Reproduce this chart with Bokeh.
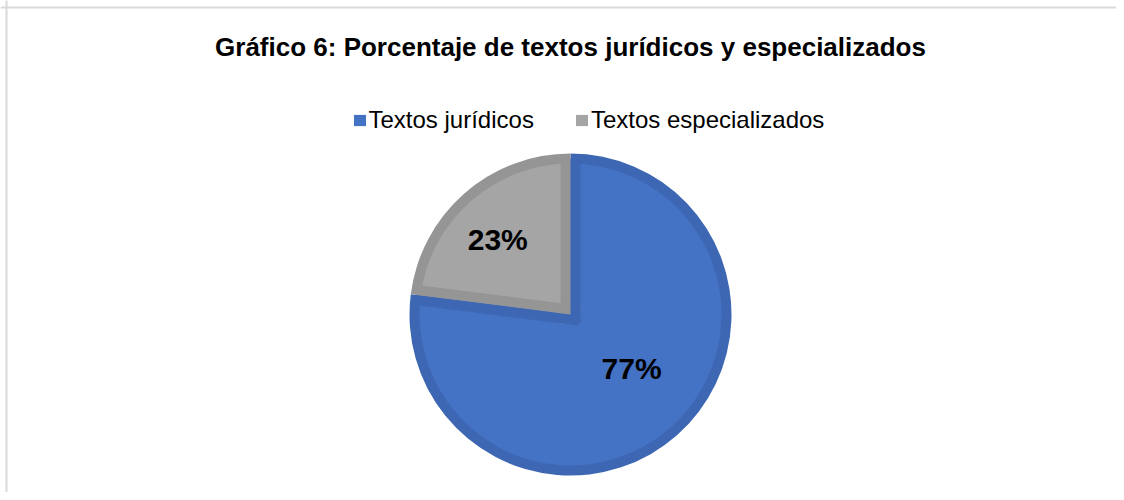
import numpy as np
from bokeh.plotting import figure
from bokeh.models import Range1d, Legend, LegendItem, Span, ColumnDataSource
from bokeh.core.properties import value
from bokeh.embed import file_html
from bokeh.resources import INLINE

# ---- data ----
categories = ["Textos jurídicos", "Textos especializados"]
percentages = [77, 23]
labels = ["77%", "23%"]
title_text = "Gráfico 6: Porcentaje de textos jurídicos y especializados"

# ---- style ----
fill_colors = ["#4472C4", "#A5A5A5"]
edge_colors = ["#3D67B3", "#959595"]
FONT = "Liberation Sans"

W, H = 1116, 492
# data coordinates: x = screen px from left, y = 500 - screen px from top
p = figure(width=W, height=H, x_range=Range1d(0, W), y_range=Range1d(8, 8 + H),
           output_backend="svg", toolbar_location=None, min_border=0)
p.axis.visible = False
p.grid.visible = False
p.outline_line_color = None
p.background_fill_color = "white"
p.border_fill_color = "white"

# chart frame (left and top edges visible)
p.add_layout(Span(location=6, dimension="height", line_color="#D9D9D9", line_width=2))
p.add_layout(Span(location=493, dimension="width", line_color="#D9D9D9", line_width=2))

# ---- pie geometry ----
cx, cy = 570, 186
R_out, R_in, bw = 161, 151, 10
frac = np.array(percentages, dtype=float) / sum(percentages)
cum = np.concatenate([[0.0], np.cumsum(frac)])
a_hi = np.pi / 2 - 2 * np.pi * cum[:-1]
a_lo = np.pi / 2 - 2 * np.pi * cum[1:]

src = ColumnDataSource(dict(cat=categories, start=a_lo, end=a_hi,
                            fill=fill_colors, edge=edge_colors))
p.wedge(x=cx, y=cy, radius=R_out, start_angle="start", end_angle="end",
        fill_color="edge", line_color=None, source=src)
inner = p.wedge(x=cx, y=cy, radius=R_in, start_angle="start", end_angle="end",
                fill_color="fill", line_color=None, source=src)

# edge bands along the radii (inside each slice)
back = bw - 1
rx, ry, rang, rcol = [], [], [], []
for i in [1, 0]:
    for ang, perp in [(a_lo[i], a_lo[i] + np.pi / 2), (a_hi[i], a_hi[i] - np.pi / 2)]:
        rx.append(cx + bw / 2 * np.cos(perp) - back * np.cos(ang))
        ry.append(cy + bw / 2 * np.sin(perp) - back * np.sin(ang))
        rang.append(ang)
        rcol.append(edge_colors[i])
p.ray(x=rx, y=ry, length=back + (R_in + R_out) / 2, angle=rang, line_color=rcol,
      line_width=bw, line_cap="butt")

# ---- data labels ----
mid = (a_lo + a_hi) / 2
lab_nudge = np.radians([7.1, 2.6])
lab_r = np.array([81.5, 104.7])
lx = cx + lab_r * np.cos(mid + lab_nudge)
ly = cy + lab_r * np.sin(mid + lab_nudge)
p.text(x=lx, y=ly, text=labels, text_font=value(FONT), text_font_style="bold",
       text_font_size="30px", text_align="center", text_baseline="middle",
       text_color="black")

# ---- title ----
p.text(x=[570], y=[454], text=[title_text], text_font=value(FONT),
       text_font_style="bold", text_font_size="26px", text_align="center",
       text_baseline="middle", text_color="black")

# ---- legend ----
legend = Legend(items=[LegendItem(label=categories[i], renderers=[inner], index=i)
                       for i in range(len(categories))],
                orientation="horizontal", location=(351.5, 358))
legend.border_line_color = None
legend.background_fill_alpha = 0
legend.padding = 0
legend.margin = 0
legend.spacing = 40
legend.label_standoff = 2
legend.glyph_width = 15
legend.glyph_height = 14
legend.label_text_font = FONT
legend.label_text_font_size = "24px"
legend.label_text_color = "black"
p.add_layout(legend)

open("out.html", "w").write(file_html(p, INLINE))
